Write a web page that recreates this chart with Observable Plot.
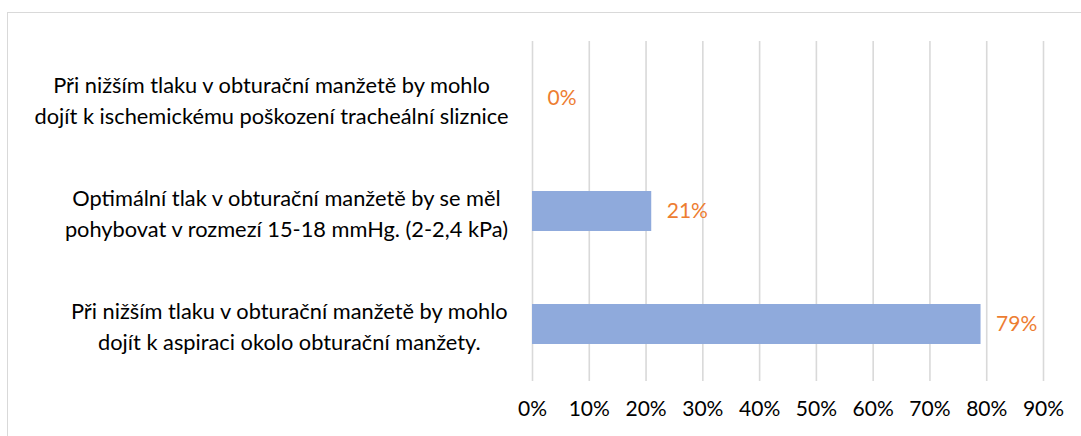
<!DOCTYPE html>
<html>
<head>
<meta charset="utf-8">
<script src="https://cdn.jsdelivr.net/npm/d3@7"></script>
<script src="https://cdn.jsdelivr.net/npm/@observablehq/plot@0.6"></script>
<style>
  html, body { margin: 0; padding: 0; background: #fff; overflow: hidden; }
  #wrap { position: relative; width: 1081px; height: 436px; }
  #border { position: absolute; left: 7px; top: 12px; width: 1100px; height: 460px; border: 1.5px solid #d9d9d9; pointer-events: none; box-sizing: border-box; }
  #wrap svg { position: absolute; left: 0; top: 0; }
</style>
</head>
<body>
<div id="wrap"><div id="border"></div></div>
<script>
const categories = [
  "Při nižším tlaku v obturační manžetě by mohlo\ndojít k ischemickému poškození tracheální sliznice",
  "Optimální tlak v obturační manžetě by se měl\npohybovat v rozmezí 15-18 mmHg. (2-2,4 kPa)",
  "Při nižším tlaku v obturační manžetě by mohlo\ndojít k aspiraci okolo obturační manžety."
];
const values = [0, 0.21, 0.79];
const valueLabels = ["0%", "21%", "79%"];
const xTicks = [0, 0.1, 0.2, 0.3, 0.4, 0.5, 0.6, 0.7, 0.8, 0.9];

const data = categories.map((c, i) => ({cat: c, v: values[i], label: valueLabels[i]}));
const font = "Lato, 'Open Sans', sans-serif";
const catFontSize = 21.8;

// Category label blocks: right-aligned block, lines centered within it
const ctx = document.createElement("canvas").getContext("2d");
ctx.font = `${catFontSize}px Lato`;
const blockWidth = (s) => Math.max(...s.split("\n").map(l => ctx.measureText(l).width));

const catMarks = data.map(d => Plot.text([d], {
  y: "cat", x: () => 0, text: "cat",
  dx: -24 - blockWidth(d.cat) / 2,
  textAnchor: "middle", lineHeight: 1.4, fill: "#000", fontSize: catFontSize
}));

const chart = Plot.plot({
  width: 1081,
  height: 436,
  marginLeft: 532,
  marginRight: 38,
  marginTop: 41,
  marginBottom: 55,
  style: {fontFamily: font, fontSize: "21px", color: "#000", background: "transparent"},
  x: {domain: [0, 0.9], ticks: xTicks, tickFormat: d3.format(".0%"), tickSize: 0, tickPadding: 20, label: null},
  y: {domain: categories, paddingInner: 0.647, paddingOuter: 0.3235, axis: null},
  marks: [
    Plot.gridX(xTicks, {stroke: "#d9d9d9", strokeWidth: 1.6, strokeOpacity: 1}),
    Plot.barX(data, {y: "cat", x: "v", fill: "#8faadc"}),
    Plot.text(data, {y: "cat", x: "v", text: "label", dx: 15, textAnchor: "start", fill: "#ed7d31", fontSize: 21}),
    ...catMarks
  ]
});
document.getElementById("wrap").prepend(chart);
</script>
</body>
</html>
